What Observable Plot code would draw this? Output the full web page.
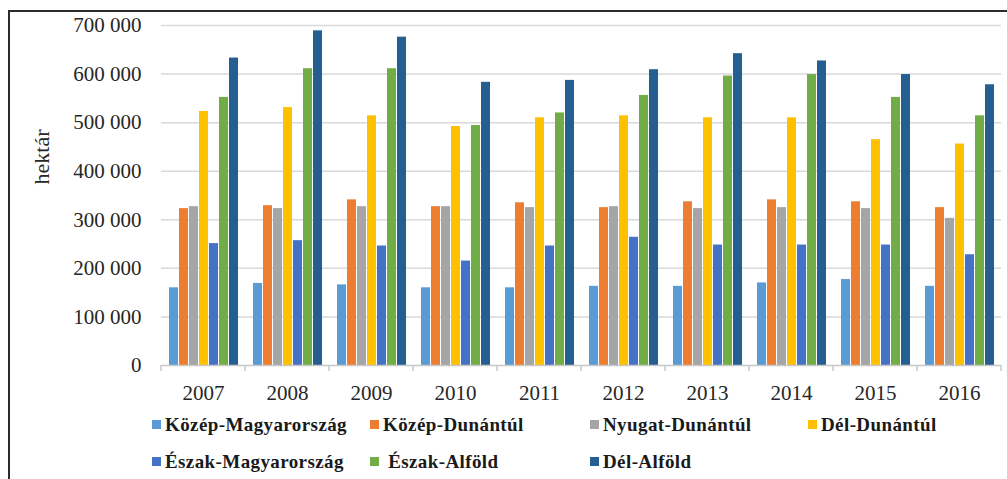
<!DOCTYPE html>
<html>
<head>
<meta charset="utf-8">
<script src="https://cdn.jsdelivr.net/npm/d3@7"></script>
<script src="https://cdn.jsdelivr.net/npm/@observablehq/plot@0.6"></script>
<style>
  html, body { margin: 0; padding: 0; background: #fff; }
  #wrap { position: relative; width: 1007px; height: 479px; overflow: hidden; }
  #frame { position: absolute; left: 8px; top: 10px; width: 1100px; height: 600px;
           border-left: 2px solid #2b2b2b; border-top: 2px solid #2b2b2b; }
  #chart { position: absolute; left: 0; top: 0; }
  #chart svg text { font-family: 'Liberation Serif', 'Times New Roman', serif !important; }
  .leg { position: absolute; font-family: 'Liberation Serif', 'Times New Roman', serif;
         font-weight: bold; font-size: 19px; letter-spacing: 0.4px; color: #1a1a1a; white-space: pre; line-height: 1; }
  .sw { position: absolute; width: 9px; height: 9px; }
</style>
</head>
<body>
<div id="wrap">
  <div id="frame"></div>
  <div id="chart"></div>
</div>
<script>
const years = ["2007","2008","2009","2010","2011","2012","2013","2014","2015","2016"];
const regions = ["Közép-Magyarország","Közép-Dunántúl","Nyugat-Dunántúl","Dél-Dunántúl","Észak-Magyarország","Észak-Alföld","Dél-Alföld"];
const legendLabels = ["Közép-Magyarország","Közép-Dunántúl","Nyugat-Dunántúl","Dél-Dunántúl","Észak-Magyarország"," Észak-Alföld","Dél-Alföld"];
const colors = ["#5B9BD5","#ED7D31","#A5A5A5","#FFC000","#4472C4","#70AD47","#255E91"];

const kozepMagyarorszag = [160000,169000,166000,160000,160000,163000,163000,170000,177000,163000];
const kozepDunantul     = [323000,329000,341000,327000,335000,325000,337000,341000,337000,325000];
const nyugatDunantul    = [327000,323000,327000,327000,325000,327000,323000,325000,323000,303000];
const delDunantul       = [523000,531000,514000,492000,510000,514000,510000,510000,465000,456000];
const eszakMagyarorszag = [251000,257000,246000,215000,246000,264000,248000,248000,248000,228000];
const eszakAlfold       = [552000,611000,611000,494000,520000,556000,596000,599000,552000,514000];
const delAlfold         = [633000,689000,676000,583000,587000,609000,642000,627000,599000,578000];

const yTicks = [0,100000,200000,300000,400000,500000,600000,700000];
const yLabel = "hektár";

const series = [kozepMagyarorszag,kozepDunantul,nyugatDunantul,delDunantul,eszakMagyarorszag,eszakAlfold,delAlfold];
const data = [];
years.forEach((yr, i) => regions.forEach((r, j) => data.push({year: yr, region: r, value: series[j][i]})));

const fmt = v => d3.format(",")(v).replace(/,/g, " ");

const chart = Plot.plot({
  width: 1007, height: 400,
  marginLeft: 160, marginRight: 6, marginTop: 25, marginBottom: 35,
  style: {fontFamily: "'Liberation Serif', 'Times New Roman', serif", fontSize: "21px", color: "#262626", background: "transparent", overflow: "visible"},
  fx: {domain: years, padding: 0, label: null, axis: "bottom", tickSize: 0, tickPadding: 20},
  x: {domain: regions, axis: null, paddingInner: 0.15, paddingOuter: 0.7},
  y: {domain: [0, 700000], ticks: yTicks, tickFormat: fmt, tickSize: 0, tickPadding: 20, label: null},
  color: {domain: regions, range: colors},
  marks: [
    Plot.ruleY(yTicks.filter(v => v > 0), {stroke: "#d9d9d9", strokeWidth: 1.5}),
    Plot.barY(data, {fx: "year", x: "region", y: "value", fill: "region"}),
    Plot.ruleY([0], {stroke: "#c8c8c8", strokeWidth: 1.5})
  ]
});
document.getElementById("chart").appendChild(chart);

// tick marks at the category boundaries, from the fx scale
const fx = chart.scale("fx");
const ys = chart.scale("y");
const y0 = ys.apply(0);
const svg = d3.select(chart);
const bounds = years.map(y => fx.apply(y)).concat([fx.apply(years[years.length-1]) + fx.step]);
svg.append("g").selectAll("line").data(bounds).join("line")
  .attr("x1", d => d).attr("x2", d => d).attr("y1", y0).attr("y2", y0 + 6)
  .attr("stroke", "#c8c8c8").attr("stroke-width", 1.5);

svg.append("text").text(yLabel)
  .attr("transform", "translate(41,157) rotate(-90)")
  .attr("text-anchor", "middle").attr("dominant-baseline", "central")
  .attr("font-size", 22).attr("fill", "#262626");

// legend
const legPos = [[152,420],[370,420],[590,420],[808,420],[152,457],[370,457],[590,457]];
const wrap = document.getElementById("wrap");
regions.forEach((r, i) => {
  const [lx, ly] = legPos[i];
  const sw = document.createElement("div");
  sw.className = "sw"; sw.style.left = lx + "px"; sw.style.top = ly + "px"; sw.style.background = colors[i];
  wrap.appendChild(sw);
  const t = document.createElement("div");
  t.className = "leg"; t.textContent = legendLabels[i];
  t.style.left = (lx + 13) + "px"; t.style.top = (ly - 5) + "px";
  wrap.appendChild(t);
});
</script>
</body>
</html>
